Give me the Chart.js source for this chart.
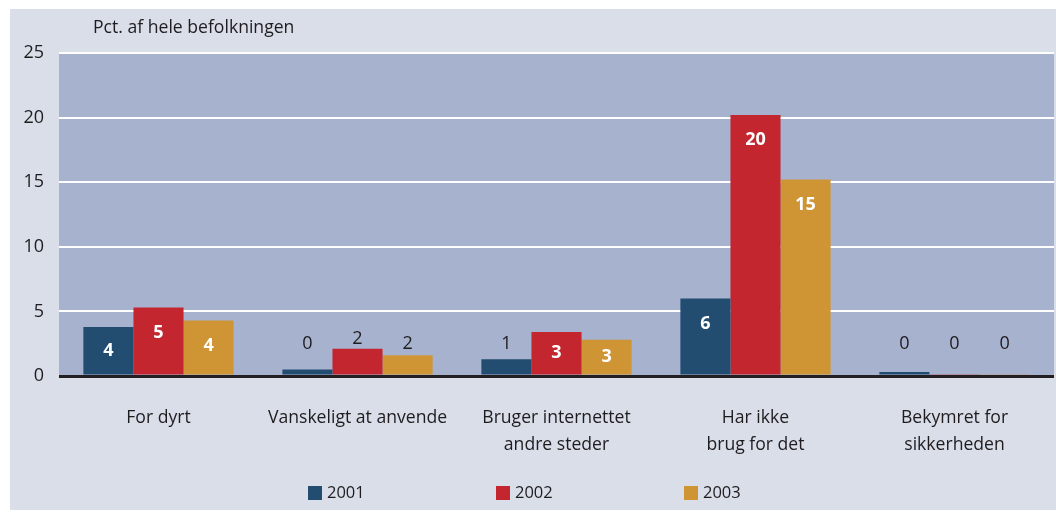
<!DOCTYPE html>
<html>
<head>
    <title>Pct. af hele befolkningen</title>
    <script src="https://cdn.jsdelivr.net/npm/chart.js"></script>
    <style>
        html, body { margin: 0; padding: 0; background: #ffffff; }
    </style>
</head>
<body>
<canvas id="barChart" width="1056" height="512"></canvas>
<script>
    const categories = [
        'For dyrt',
        'Vanskeligt at anvende',
        ['Bruger internettet', 'andre steder'],
        ['Har ikke', 'brug for det'],
        ['Bekymret for', 'sikkerheden']
    ];
    const years = ['2001', '2002', '2003'];
    const values2001 = [3.8, 0.5, 1.3, 6.0, 0.3];
    const values2002 = [5.3, 2.1, 3.4, 20.2, 0.1];
    const values2003 = [4.3, 1.6, 2.8, 15.2, 0.1];
    // printed labels, as in the original (rounded)
    const labels2001 = ['4', '0', '1', '6', '0'];
    const labels2002 = ['5', '2', '3', '20', '0'];
    const labels2003 = ['4', '2', '3', '15', '0'];
    const yTicks = [0, 5, 10, 15, 20, 25];
    const colors = ['#224d70', '#c3262f', '#cf9535'];

    const FONT = '"Open Sans", Lato, sans-serif';
    const TEXT = '#1e1c1e';

    const backdrop = {
        id: 'backdrop',
        beforeDraw(chart) {
            const ctx = chart.ctx;
            const a = chart.chartArea;
            ctx.save();
            ctx.fillStyle = '#d9dee9';
            ctx.fillRect(10, 9, chart.width - 10, chart.height - 11);
            ctx.fillStyle = '#a7b2cf';
            ctx.fillRect(a.left, a.top, a.right - a.left, a.bottom - a.top);
            ctx.fillStyle = TEXT;
            ctx.font = '17.6px ' + FONT;
            ctx.textBaseline = 'middle';
            ctx.fillText('Pct. af hele befolkningen', 93, 28);
            ctx.restore();
        },
        afterDraw(chart) {
            const ctx = chart.ctx;
            ctx.save();
            ctx.font = '16.5px ' + FONT;
            ctx.textBaseline = 'middle';
            chart.data.datasets.forEach((ds, i) => {
                const x = 308 + i * 188;
                ctx.fillStyle = ds.backgroundColor;
                ctx.fillRect(x, 486, 14, 14);
                ctx.fillStyle = TEXT;
                ctx.fillText(ds.label, x + 19, 493);
            });
            ctx.restore();
        }
    };

    const barLabels = {
        id: 'barLabels',
        afterDatasetsDraw(chart) {
            const ctx = chart.ctx;
            ctx.save();
            ctx.textAlign = 'center';
            ctx.textBaseline = 'middle';
            chart.data.datasets.forEach((ds, i) => {
                const meta = chart.getDatasetMeta(i);
                meta.data.forEach((bar, j) => {
                    const h = bar.base - bar.y;
                    const txt = ds.printed[j];
                    if (h >= 32) {
                        ctx.font = 'bold 18px ' + FONT;
                        ctx.fillStyle = '#ffffff';
                        ctx.fillText(txt, bar.x, Math.min((bar.y + bar.base) / 2, bar.y + 25));
                    } else {
                        ctx.font = '18px ' + FONT;
                        ctx.fillStyle = TEXT;
                        ctx.fillText(txt, bar.x, Math.min(bar.y - 10, bar.base - 31));
                    }
                });
            });
            ctx.restore();
        }
    };

    const seriesValues = [values2001, values2002, values2003];
    const seriesLabels = [labels2001, labels2002, labels2003];

    new Chart(document.getElementById('barChart').getContext('2d'), {
        type: 'bar',
        data: {
            labels: categories,
            datasets: years.map((y, i) => ({
                label: y,
                data: seriesValues[i],
                printed: seriesLabels[i],
                backgroundColor: colors[i],
                borderWidth: 0,
                categoryPercentage: 0.755,
                barPercentage: 1.0
            }))
        },
        options: {
            responsive: false,
            animation: false,
            devicePixelRatio: 1,
            layout: { padding: { top: 53, left: 10, right: 2, bottom: 0 } },
            plugins: {
                legend: { display: false },
                tooltip: { enabled: false }
            },
            scales: {
                x: {
                    grid: { display: false },
                    border: { display: false },
                    ticks: {
                        color: TEXT,
                        font: { family: FONT, size: 17.6, lineHeight: 1.55 },
                        padding: 20,
                        maxRotation: 0,
                        autoSkip: false
                    },
                    afterFit(scale) { scale.height = 136; }
                },
                y: {
                    min: 0,
                    max: 25,
                    afterBuildTicks(scale) { scale.ticks = yTicks.map(v => ({ value: v })); },
                    grid: {
                        color: ctx => ctx.tick && ctx.tick.value === 0 ? '#231f20' : '#ffffff',
                        lineWidth: ctx => ctx.tick && ctx.tick.value === 0 ? 3 : 2,
                        drawTicks: false
                    },
                    border: { display: false },
                    ticks: {
                        color: TEXT,
                        font: { family: FONT, size: 18 },
                        padding: 15
                    },
                    afterFit(scale) { scale.width = 49; }
                }
            }
        },
        plugins: [backdrop, barLabels]
    });
</script>
</body>
</html>
